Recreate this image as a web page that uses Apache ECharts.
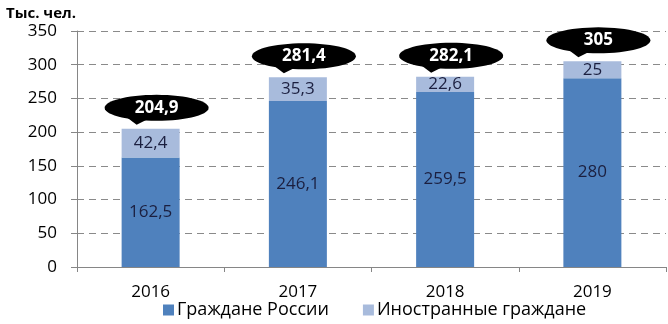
<!DOCTYPE html>
<html>
<head>
<meta charset="utf-8">
<script src="https://cdn.jsdelivr.net/npm/echarts@6/dist/echarts.min.js"></script>
<style>
html,body{margin:0;padding:0;background:#fff;}
#chart{width:668px;height:324px;}
</style>
</head>
<body>
<div id="chart"></div>
<script>
const categories = ['2016', '2017', '2018', '2019'];
const russians = [162.5, 246.1, 259.5, 280];
const foreigners = [42.4, 35.3, 22.6, 25];
const totals = [204.9, 281.4, 282.1, 305];
const yTicks = [0, 50, 100, 150, 200, 250, 300, 350];
const seriesNames = ['Граждане России', 'Иностранные граждане'];
const unitTitle = 'Тыс. чел.';

const FONT = '"Open Sans", "Noto Sans", sans-serif';
const fmt = v => String(v).replace('.', ',');

const chart = echarts.init(document.getElementById('chart'), null, {renderer: 'canvas'});

function bubble(params, api) {
  const p = api.coord([api.value(0), api.value(1)]);
  const cx = p[0] + 6, cy = p[1] - 21, rx = 52, ry = 13;
  const pts = [];
  for (let i = 0; i < 60; i++) {
    const a = (i / 60) * Math.PI * 2;
    pts.push([cx + rx * Math.cos(a), cy + ry * Math.sin(a)]);
  }
  return {
    type: 'group',
    children: [
      {type: 'polygon', shape: {points: pts}, style: {fill: '#000'}},
      {type: 'polygon', shape: {points: [[cx - 32, cy + 8], [cx - 8, cy + 11], [cx - 20, cy + 17]]}, style: {fill: '#000'}},
      {type: 'text', style: {text: fmt(totals[params.dataIndex]), x: cx, y: cy, align: 'center', verticalAlign: 'middle', fill: '#fff', font: 'bold 17px ' + FONT}}
    ]
  };
}

chart.setOption({
  animation: false,
  title: {
    text: unitTitle, left: 1, top: 1,
    textStyle: {fontFamily: FONT, fontSize: 15, fontWeight: 'bold', color: '#000'}
  },
  legend: {
    data: seriesNames,
    bottom: 0, left: 158,
    itemWidth: 11, itemHeight: 11, itemGap: 34,
    icon: 'rect',
    textStyle: {fontFamily: FONT, fontSize: 18, color: '#000', padding: [0, 0, 0, -2]}
  },
  grid: {left: 77, right: 2, top: 31, bottom: 57, containLabel: false},
  xAxis: {
    type: 'category',
    data: categories,
    axisLine: {lineStyle: {color: '#868686'}},
    axisTick: {show: true, length: 5, lineStyle: {color: '#868686'}},
    axisLabel: {fontFamily: FONT, fontSize: 17, color: '#000', margin: 17}
  },
  yAxis: {
    type: 'value', min: yTicks[0], max: yTicks[yTicks.length - 1], interval: 50,
    axisLine: {show: true, lineStyle: {color: '#868686'}},
    axisTick: {show: true, length: 6, lineStyle: {color: '#868686'}},
    axisLabel: {fontFamily: FONT, fontSize: 17, color: '#000', margin: 20},
    splitLine: {show: true, lineStyle: {color: '#8a8a8a', type: [7, 5], width: 1}}
  },
  series: [
    {
      name: seriesNames[0], type: 'bar', stack: 's', barWidth: 58,
      data: russians,
      itemStyle: {color: '#4F81BD'},
      label: {show: true, position: 'inside', formatter: p => fmt(p.value), fontFamily: FONT, fontSize: 17, color: '#1b1f3f'}
    },
    {
      name: seriesNames[1], type: 'bar', stack: 's', barWidth: 58,
      data: foreigners,
      itemStyle: {color: '#A8BBDC'},
      label: {show: true, position: 'inside', formatter: p => fmt(p.value), fontFamily: FONT, fontSize: 17, color: '#1b1f3f'}
    },
    {
      type: 'custom', renderItem: bubble,
      data: totals.map((v, i) => [i, v]),
      z: 10, silent: true
    }
  ]
});
</script>
</body>
</html>
